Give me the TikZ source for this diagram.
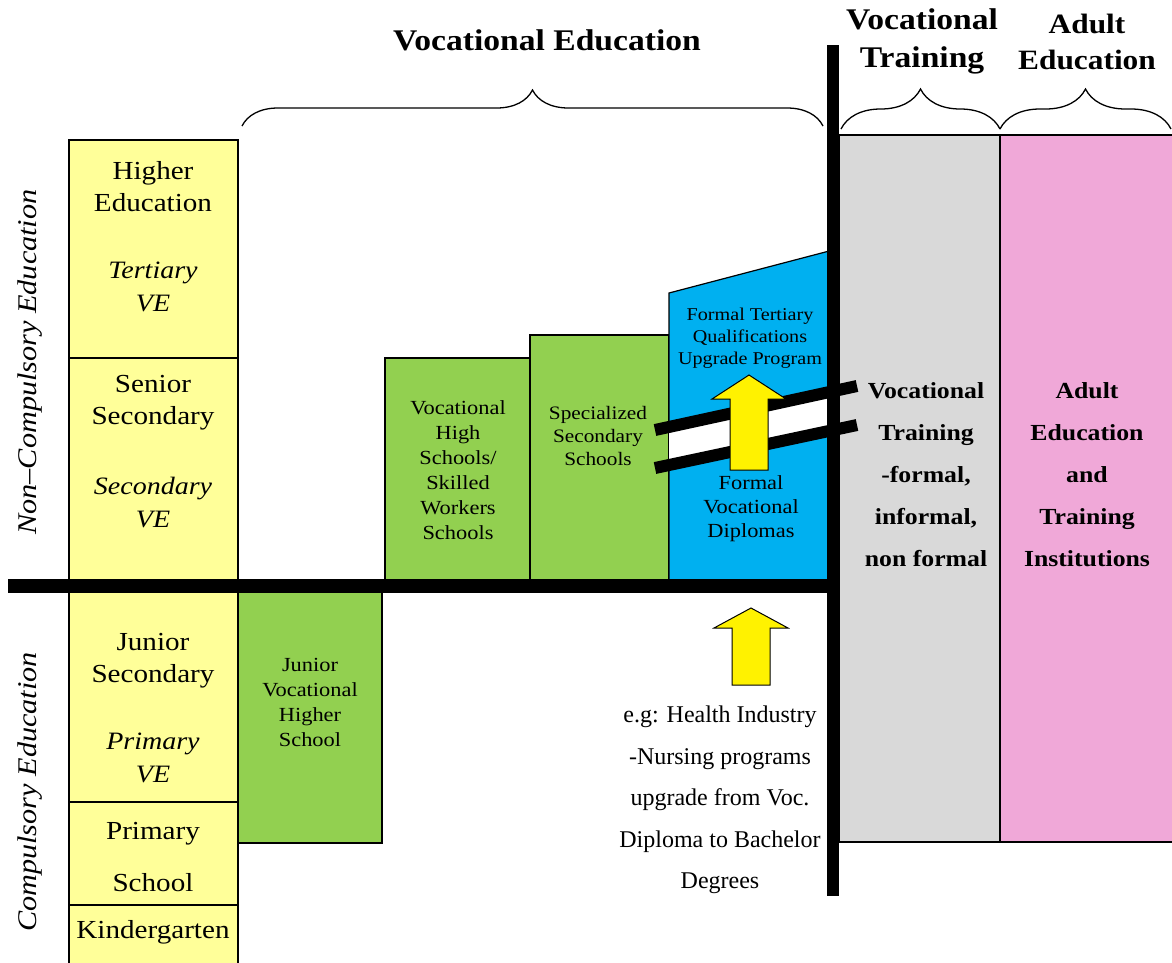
\documentclass[tikz,border=0pt]{standalone}
\usepackage{fontspec}
\setmainfont{Liberation Serif}[FakeStretch=1.12]
\newfontfamily\notefont{Liberation Serif}
\usetikzlibrary{decorations.pathreplacing}

\definecolor{LevelYellow}{HTML}{FFFF99}
\definecolor{VocGreen}{HTML}{92D050}
\definecolor{TertBlue}{HTML}{00B0F0}
\definecolor{TrainGray}{HTML}{D9D9D9}
\definecolor{AdultPink}{HTML}{F0A8D8}

\newcommand\FillBox[5]{%
    \draw[line width=1.2pt,fill=#1] (#2,#3) rectangle (#4,#5);
}
% x of the tip, tip, base of the head, bottom of the shaft, half head width
\newcommand\UpArrow[5]{%
    \draw[line width=1pt,fill=yellow] (#1,#2) -- (#1+#5,#3) -- (#1+19,#3) -- (#1+19,#4)
        -- (#1-19,#4) -- (#1-19,#3) -- (#1-#5,#3) -- cycle;
}

\tikzset{
    lvl/.style={align=center,inner sep=0,font=\fontsize{26}{32}\selectfont},
    lvlit/.style={align=center,inner sep=0,font=\fontsize{25}{33}\selectfont\itshape},
    voc/.style={align=center,inner sep=0,font=\fontsize{20}{25}\selectfont},
    side/.style={align=center,inner sep=0,font=\fontsize{23}{42}\selectfont\bfseries},
    head/.style={align=center,inner sep=0,font=\fontsize{30}{38}\selectfont\bfseries},
    sector/.style={rotate=90,inner sep=0,font=\fontsize{27}{30}\selectfont\itshape},
    bracket/.style={decorate,decoration={brace,amplitude=#1},line width=1.3pt},
}

\begin{document}
\begin{tikzpicture}[x=1pt,y=-1pt]
    \useasboundingbox (0,0) rectangle (1172,962);

    % training and adult columns
    \FillBox{TrainGray}{839}{135}{1000}{842}
    \FillBox{AdultPink}{1000}{135}{1173}{842}

    % school levels
    \FillBox{LevelYellow}{69}{140}{238}{358}
    \FillBox{LevelYellow}{69}{358}{238}{586}
    \FillBox{LevelYellow}{69}{586}{238}{802}
    \FillBox{LevelYellow}{69}{802}{238}{905}
    \FillBox{LevelYellow}{69}{905}{238}{965}

    % vocational schools
    \FillBox{VocGreen}{238}{586}{382}{843}
    \FillBox{VocGreen}{385}{358}{530}{586}
    \FillBox{VocGreen}{530}{335}{669}{586}
    \draw[line width=1.2pt,fill=TertBlue] (669,586) -- (669,293) -- (833,250) -- (833,586) -- cycle;

    % break in the tertiary block
    \fill[white] (669,427) -- (833,391) -- (833,430) -- (669,465) -- cycle;
    \draw[line width=12pt] (655,430) -- (857,386);
    \draw[line width=12pt] (655,468) -- (857,425);

    \UpArrow{749}{375}{399}{470}{37}
    \UpArrow{751}{608}{628}{685}{37}

    % dividing bars
    \draw[line width=14pt] (8,586) coordinate(BarStart) -- (833,586) coordinate(BarEnd);
    \draw[line width=12pt] (833,45) -- (833,896);

    % braces
    \draw[bracket=36] (242,126) -- (823,126);
    \draw[bracket=40] (841,129) -- (1000,129);
    \draw[bracket=40] (1000,129) -- (1171,129);

    \node[head] (vocedu) at (547,40) {Vocational Education};
    \node[head] (voctrain) at (922,41) {Vocational\\Training};
    \node[head,font=\fontsize{28}{36}\selectfont\bfseries] (adultedu) at (1087,42) {Adult\\Education};

    \node[sector] (noncomp) at (30,362) {Non--Compulsory Education};
    \node[sector] (comp) at (30,792) {Compulsory Education};

    \node[lvl] (higher) at (153,187) {Higher\\Education};
    \node[lvlit] (tertve) at (153,287) {Tertiary\\VE};
    \node[lvl] (senior) at (153,403) {Senior\\Secondary};
    \node[lvlit] (secve) at (153,503) {Secondary\\VE};
    \node[lvl] (junior) at (153,661) {Junior\\Secondary};
    \node[lvlit] (primve) at (153,758) {Primary\\VE};
    \node[lvl,font=\fontsize{26}{52}\selectfont] (primary) at (153,857) {Primary\\School};
    \node[lvl] (kinder) at (153,932) {Kindergarten};

    \node[voc] (jvhs) at (310,702) {Junior\\Vocational\\Higher\\School};
    \node[voc] (vhs) at (458,470) {Vocational\\High\\Schools/\\Skilled\\Workers\\Schools};
    \node[voc,font=\fontsize{19}{23}\selectfont] (sss) at (598,436) {Specialized\\Secondary\\Schools};
    \node[voc,font=\fontsize{18}{22}\selectfont] (ftq) at (750,338) {Formal Tertiary\\Qualifications\\Upgrade Program};
    \node[voc,font=\fontsize{20}{24}\selectfont] (fvd) at (751,509) {Formal\\Vocational\\Diplomas};

    \node[side] (vtext) at (926,475) {Vocational\\Training\\-formal,\\informal,\\non formal};
    \node[side] (atext) at (1087,475) {Adult\\Education\\and\\Training\\Institutions};

    \node[align=center,inner sep=0,font=\notefont\fontsize{24}{41.5}\selectfont] (example) at (720,800)
        {e.g: Health Industry\\-Nursing programs\\upgrade from Voc.\\Diploma to Bachelor\\Degrees};
\end{tikzpicture}
\end{document}
